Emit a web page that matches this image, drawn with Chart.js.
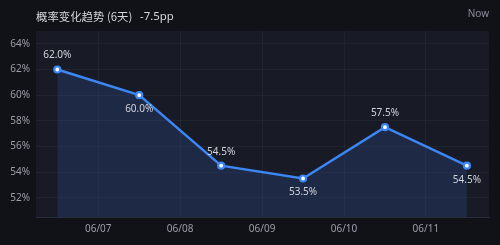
<!DOCTYPE html>
<html><head><meta charset="utf-8">
<script src="https://cdn.jsdelivr.net/npm/chart.js@4"></script>
<style>html,body{margin:0;padding:0;background:#111217;}#wrap{width:500px;height:245px;position:relative}</style>
</head><body><div id="wrap"><canvas id="c" width="500" height="245"></canvas></div>
<script>
const titleText = '概率变化趋势 (6天)';
const changeText = '-7.5pp';
const cornerText = 'Now';
const dates = ['06/06','06/07','06/08','06/09','06/10','06/11'];
const probs = [62.0, 60.0, 54.5, 53.5, 57.5, 54.5];
const tickLabels = ['06/07','06/08','06/09','06/10','06/11'];
const tickPositions = [0.5, 1.5, 2.5, 3.5, 4.5];
const yTicks = [52, 54, 56, 58, 60, 62, 64];

const bgPlugin = {
  id:'bg',
  beforeDraw(chart){
    const {ctx, chartArea:a} = chart;
    ctx.save();
    ctx.fillStyle = '#181b25';
    ctx.fillRect(a.left, a.top, a.right-a.left, a.bottom-a.top);
    ctx.font = '11.4px "Noto Sans CJK SC", "Noto Sans", sans-serif';
    ctx.fillStyle = '#d4d6dc';
    ctx.textBaseline = 'middle';
    ctx.textAlign = 'left';
    ctx.fillText(titleText, 36, 16.5);
    ctx.font = '11.4px "Noto Sans", sans-serif';
    ctx.fillText(changeText, 140, 16.5);
    ctx.font = '10px "Noto Sans", sans-serif';
    ctx.fillStyle = '#8a8e99';
    ctx.textAlign = 'right';
    ctx.fillText(cornerText, 489, 14.5);
    ctx.restore();
  }
};
const labelPlugin = {
  id:'lbl',
  afterDatasetsDraw(chart){
    const {ctx} = chart;
    const meta = chart.getDatasetMeta(0);
    ctx.save();
    ctx.font = '10px "Noto Sans", sans-serif';
    ctx.fillStyle = '#d0d3da';
    ctx.textAlign = 'center';
    ctx.textBaseline = 'middle';
    meta.data.forEach((p,i)=>{
      const dy = i%2===0 ? -14 : 14;
      ctx.fillText(probs[i].toFixed(1)+'%', p.x, p.y+dy);
    });
    ctx.restore();
  }
};

new Chart(document.getElementById('c'), {
  type:'line',
  data:{
    datasets:[{
      data: probs.map((v,i)=>({x:i, y:v})),
      borderColor:'#3d86f5',
      borderWidth:2.5,
      backgroundColor:'rgba(40,70,130,0.35)',
      fill:'start',
      tension:0,
      pointRadius:3,
      pointBackgroundColor:'#ffffff',
      pointBorderColor:'#3d86f5',
      pointBorderWidth:2.2
    }]
  },
  options:{
    responsive:false,
    animation:false,
    devicePixelRatio:1,
    layout:{padding:{top:31,right:11,left:0,bottom:0}},
    plugins:{legend:{display:false},tooltip:{enabled:false}},
    scales:{
      x:{
        type:'linear', min:-0.26, max:5.27,
        afterBuildTicks(s){ s.ticks = tickPositions.map(v=>({value:v})); },
        afterFit(s){ s.height = 28; },
        ticks:{
          callback:(v)=>{ const i = tickPositions.indexOf(v); return i>=0 ? tickLabels[i] : ''; },
          color:'#9a9ea8', font:{size:10, family:'"Noto Sans", sans-serif'}, padding:6, maxRotation:0, autoSkip:false
        },
        grid:{color:'rgba(255,255,255,0.045)', drawTicks:false},
        border:{display:true, color:'#2a2e3a'}
      },
      y:{
        min:50.5, max:65,
        afterBuildTicks(s){ s.ticks = yTicks.map(v=>({value:v})); },
        afterFit(s){ s.width = 36; },
        ticks:{
          callback:(v)=>v+'%',
          color:'#9a9ea8', font:{size:10, family:'"Noto Sans", sans-serif'}, padding:6
        },
        grid:{color:'rgba(255,255,255,0.045)', drawTicks:false},
        border:{display:false}
      }
    }
  },
  plugins:[bgPlugin, labelPlugin]
});
</script></body></html>
